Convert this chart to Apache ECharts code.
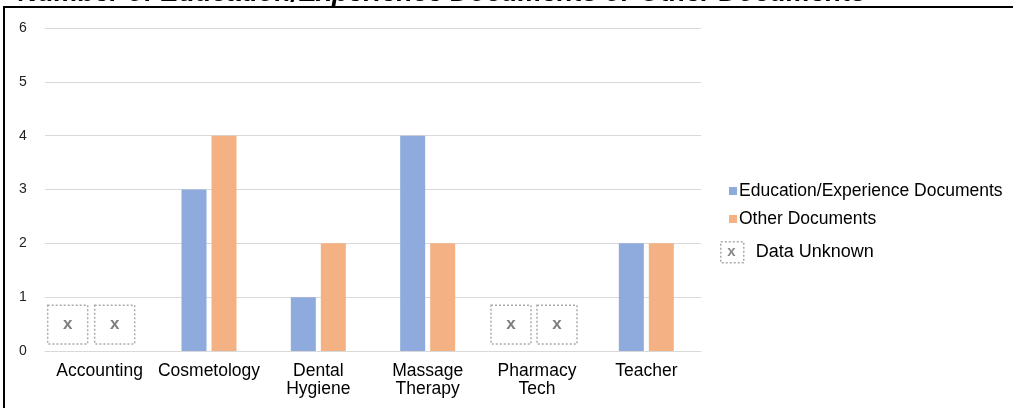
<!DOCTYPE html>
<html>
<head>
<meta charset="utf-8">
<script src="https://cdn.jsdelivr.net/npm/echarts@6/dist/echarts.min.js"></script>
<style>
html,body{margin:0;padding:0;background:#fff;}
#c{width:1013px;height:408px;}
</style>
</head>
<body>
<div id="c"></div>
<script>
const titleText = 'Number of Education/Experience Documents or Other Documents';
const categories = ['Accounting', 'Cosmetology', 'Dental\nHygiene', 'Massage\nTherapy', 'Pharmacy\nTech', 'Teacher'];
const eduDocs = [null, 3, 1, 4, null, 2];
const otherDocs = [null, 4, 2, 2, null, 2];
const yTicks = [0, 1, 2, 3, 4, 5, 6];
const seriesNames = ['Education/Experience Documents', 'Other Documents', 'Data Unknown'];

// Unknown placeholders derived from missing values: [categoryIndex, side]
const unknownData = [];
eduDocs.forEach((v, i) => { if (v === null) unknownData.push([i, 0]); });
otherDocs.forEach((v, i) => { if (v === null) unknownData.push([i, 1]); });

const chart = echarts.init(document.getElementById('c'), null, {renderer: 'canvas'});
const FONT = '"Liberation Sans", Arial, Helvetica, sans-serif';

chart.setOption({
  animation: false,
  backgroundColor: '#fff',
  grid: {left: 45, right: 312, top: 28, bottom: 57, containLabel: false},
  xAxis: {
    type: 'category',
    data: categories,
    axisLine: {show: true, lineStyle: {color: '#d9d9d9', width: 1}},
    axisTick: {show: false},
    axisLabel: {color: '#000', fontFamily: FONT, fontSize: 17.5, lineHeight: 18, margin: 11, interval: 0}
  },
  yAxis: {
    type: 'value',
    min: yTicks[0],
    max: yTicks[yTicks.length - 1],
    interval: 1,
    axisLine: {show: false},
    axisTick: {show: false},
    splitLine: {lineStyle: {color: '#d9d9d9', width: 1}},
    axisLabel: {color: '#222', fontFamily: FONT, fontSize: 14, margin: 22, align: 'center'}
  },
  legend: [{
    orient: 'vertical',
    left: 729,
    top: 182,
    padding: 0,
    itemWidth: 8,
    itemHeight: 8,
    itemGap: 10,
    icon: 'rect',
    data: [seriesNames[0], seriesNames[1]],
    textStyle: {color: '#000', fontFamily: FONT, fontSize: 17.5, padding: [0, 0, 0, -3]}
  }, {
    orient: 'vertical',
    left: 720,
    top: 241,
    padding: 0,
    itemWidth: 23,
    itemHeight: 21,
    data: [{name: seriesNames[2], icon: 'rect'}],
    itemStyle: {color: '#fff', borderColor: '#aaa', borderWidth: 1.5, borderType: [2, 2]},
    textStyle: {color: '#000', fontFamily: FONT, fontSize: 18, padding: [0, 0, 0, 7]}
  }],
  graphic: [
    {type: 'rect', shape: {x: 4, y: 7, width: 1100, height: 500}, style: {fill: 'none', stroke: '#000', lineWidth: 2}, z: 100},
    {type: 'text', x: 866, y: 7.5, style: {text: titleText, align: 'right', verticalAlign: 'bottom', fill: '#000', font: 'italic bold 27px "Liberation Sans", Arial, sans-serif'}, z: 101},
    {type: 'text', x: 731.5, y: 251.5, style: {text: 'x', align: 'center', verticalAlign: 'middle', fill: '#888', font: 'bold 15px "Liberation Sans", Arial, sans-serif'}, z: 101}
  ],
  series: [{
    name: seriesNames[0],
    type: 'bar',
    data: eduDocs,
    barWidth: 25,
    barGap: '20%',
    itemStyle: {color: '#8faadc'}
  }, {
    name: seriesNames[1],
    type: 'bar',
    data: otherDocs,
    barWidth: 25,
    barGap: '20%',
    itemStyle: {color: '#f4b183'}
  }, {
    name: seriesNames[2],
    type: 'custom',
    data: unknownData,
    itemStyle: {color: '#fff', borderColor: '#aaa'},
    renderItem: function (params, api) {
      const cat = api.value(0);
      const side = api.value(1);
      const top = api.coord([cat, 0.85]);
      const bot = api.coord([cat, 0.13]);
      const w = 40;
      const offs = cat === 0 ? [-32, 15] : [-26, 20];
      const cx = top[0] + offs[side];
      return {
        type: 'group',
        children: [{
          type: 'rect',
          shape: {x: cx - w / 2, y: top[1], width: w, height: bot[1] - top[1]},
          style: {fill: 'none', stroke: '#aaa', lineWidth: 1.5, lineDash: [2, 2]}
        }, {
          type: 'text',
          x: cx,
          y: (top[1] + bot[1]) / 2,
          style: {text: 'x', align: 'center', verticalAlign: 'middle', fill: '#7f7f7f', font: 'bold 17px "Liberation Sans", Arial, sans-serif'}
        }]
      };
    }
  }]
});
</script>
</body>
</html>
